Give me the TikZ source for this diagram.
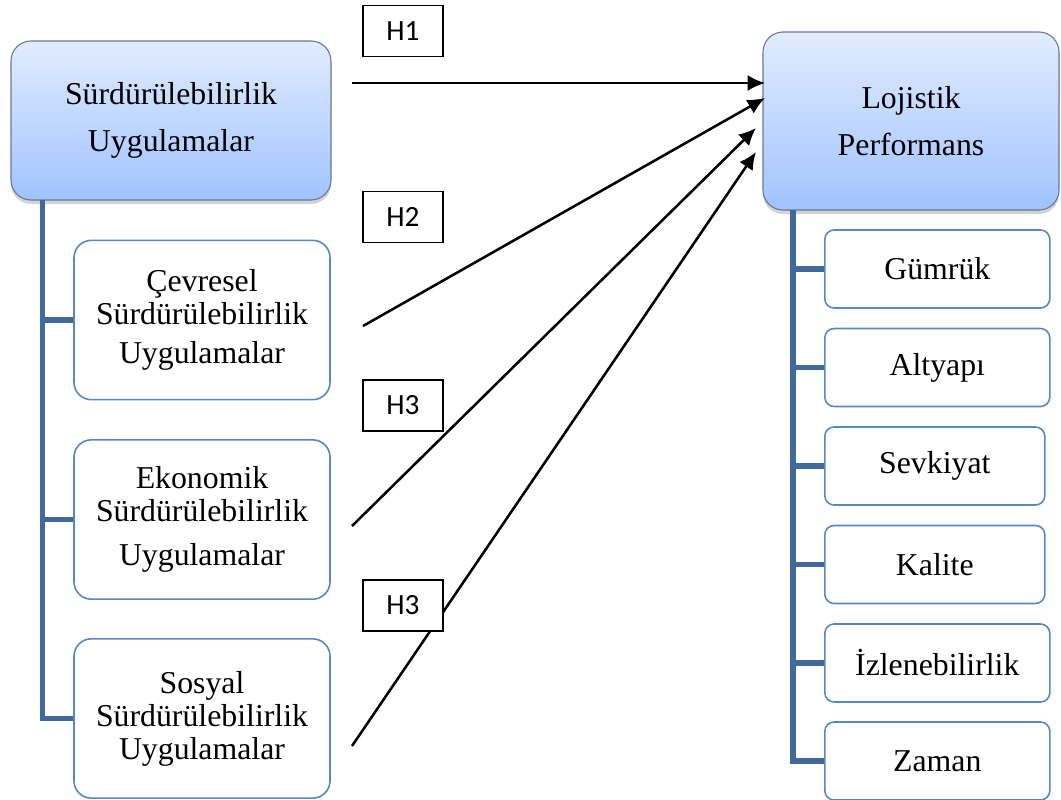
\documentclass[tikz,border=0pt]{standalone}
\usepackage{fontspec}
\setmainfont{Liberation Serif}
\newfontfamily\hfont{Carlito}
\usetikzlibrary{arrows.meta}
\usetikzlibrary{shadows}
\definecolor{spine}{RGB}{65,105,155}
\definecolor{boxline}{RGB}{88,136,196}
\definecolor{headtop}{RGB}{226,236,255}
\definecolor{headbottom}{RGB}{160,195,255}
\definecolor{headline}{RGB}{105,120,145}

\begin{document}
\begin{tikzpicture}[x=0.75pt, y=-0.75pt]
    \tikzstyle{main box} = [draw=headline, line width=0.8pt, rounded corners=15pt, top color=headtop, bottom color=headbottom, align=center, inner sep=0pt, font=\fontsize{23.85}{35.25}\selectfont, drop shadow={shadow xshift=0pt, shadow yshift=-3pt, opacity=0.35}]
    \tikzstyle{side box} = [draw=boxline, line width=1.2pt, fill=white, rounded corners=13pt, align=center, inner sep=0pt, minimum width=192pt, minimum height=119.5pt, font=\fontsize{23.85}{24.75}\selectfont]
    \tikzstyle{item box} = [draw=boxline, line width=1.2pt, fill=white, rounded corners=7pt, inner sep=0pt, minimum height=58.5pt, font=\fontsize{23.85}{24.75}\selectfont]
    \tikzstyle{spine line} = [draw=spine, line width=3.8pt]
    \tikzstyle{hyp arrow} = [line width=1.9pt, -{Latex[length=13pt, width=12pt]}]
    \tikzstyle{hyp box} = [draw, line width=1.2pt, fill=white, inner sep=0pt, minimum width=60pt, minimum height=38.25pt, font=\hfont\fontsize{22}{26}\selectfont]

    \useasboundingbox (0, 0) rectangle (1061, 800);

    \node[main box, minimum width=240pt, minimum height=119.25pt] (sul) at (171, 120.5) {Sürdürülebilirlik\\Uygulamalar};
    \node[main box, minimum width=222pt, minimum height=133.5pt] (lp) at (911, 121) {Lojistik\\Performans};

    \node[side box] (cevre) at (202, 320) {Çevresel\\Sürdürülebilirlik\\[4.5pt]Uygulamalar};
    \node[side box] (ekon) at (202, 519.5) {Ekonomik\\Sürdürülebilirlik\\[8.25pt]Uygulamalar};
    \node[side box] (sosyal) at (202, 718.5) {Sosyal\\Sürdürülebilirlik\\Uygulamalar};

    \foreach \name/\label/\y/\w in {gumruk/Gümrük/269/225, altyapi/Altyapı/367.5/225, sevkiyat/Sevkiyat/466/220, kalite/Kalite/564.5/220, izlen/İzlenebilirlik/663/225, zaman/Zaman/761/225} {
        \node[item box, anchor=west, minimum width=\w*0.75pt] (\name) at (824, \y) {\label};
    }

    \coordinate (lspine) at (42.5, 200);
    \coordinate (rspine) at (793, 210);
    \foreach \name in {cevre, ekon, sosyal} {
        \draw[spine line] (lspine) |- (\name.west);
    }
    \foreach \name in {gumruk, altyapi, sevkiyat, kalite, izlen, zaman} {
        \draw[spine line] (rspine) |- (\name.west);
    }

    \coordinate (h1s) at (352, 83);
    \coordinate (h1e) at (765, 83);
    \coordinate (h2s) at (363, 326);
    \coordinate (h2e) at (765, 98);
    \coordinate (h3s) at (352, 526);
    \coordinate (h3e) at (756, 128);
    \coordinate (h4s) at (352, 746);
    \coordinate (h4e) at (756, 152);
    \draw[hyp arrow] (h1s) -- (h1e);
    \draw[hyp arrow] (h2s) -- (h2e);
    \draw[hyp arrow] (h3s) -- (h3e);
    \draw[hyp arrow] (h4s) -- (h4e);

    \node[hyp box] (hyp1) at (403, 31) {H1};
    \node[hyp box] (hyp2) at (403, 217) {H2};
    \node[hyp box] (hyp3) at (403, 405.5) {H3};
    \node[hyp box] (hyp4) at (403, 605.5) {H3};
\end{tikzpicture}
\end{document}
